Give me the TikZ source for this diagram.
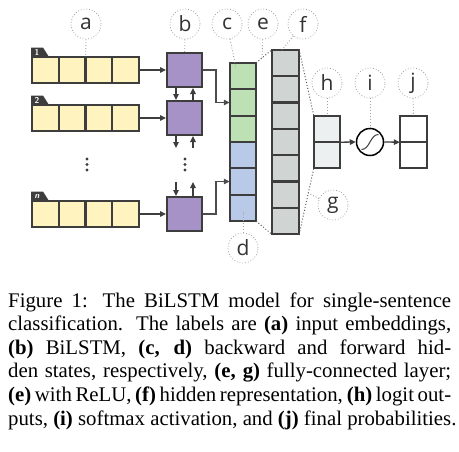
\documentclass[tikz,border=0pt]{standalone}
\usepackage{fontspec}
\setmainfont{Liberation Serif}
\newfontfamily\labfont{Open Sans}
\usetikzlibrary{arrows.meta,calc}
\definecolor{bd}{HTML}{3D3D3D}
\definecolor{yel}{HTML}{FFF4BF}
\definecolor{pur}{HTML}{A792C8}
\definecolor{grn}{HTML}{BEE0B5}
\definecolor{blu}{HTML}{B8CAE8}
\definecolor{gry}{HTML}{D0D4D3}
\definecolor{hcl}{HTML}{ECF0F0}
\definecolor{dotc}{HTML}{A0A0A0}
\begin{document}
\begin{tikzpicture}[x=1pt,y=-1pt,
  ecell/.style={fill=yel,inner sep=0pt,minimum width=26.75pt,minimum height=26pt},
  lstm/.style={draw=bd,line width=2pt,fill=pur,inner sep=0pt,minimum width=35pt,minimum height=34pt},
  vcell/.style={inner sep=0pt,minimum width=26pt,minimum height=26.33pt},
  fcell/.style={fill=gry,inner sep=0pt,minimum width=27pt,minimum height=26.29pt},
  ocell/.style={inner sep=0pt,minimum width=26pt,minimum height=26pt},
  cellborder/.style={draw=bd,line width=1.8pt},
  lab/.style={circle,draw=dotc,dotted,line width=0.8pt,minimum size=30pt,inner sep=0pt,font=\labfont\fontsize{21}{21}\selectfont,text=black!80},
  labline/.style={draw=dotc,dotted,line width=0.9pt},
  darkdot/.style={draw=black!65,dotted,line width=1pt},
  arr/.style={-{Triangle[length=6pt,width=5.5pt]},line width=1.3pt,draw=bd},
  conn/.style={-{Triangle[length=6pt,width=5.5pt]},line width=1.1pt,draw=black!70},
  tagtxt/.style={text=white,font=\sffamily\bfseries\fontsize{8.5}{8.5}\selectfont,inner sep=0pt},
  captxt/.style={anchor=base west,inner sep=0pt,font=\fontsize{20.8}{23.4}\selectfont}
]
\useasboundingbox (0,0) rectangle (459,451);
% input embeddings
\foreach \r/\y in {1/70,2/118,n/214}{
  \foreach \k in {1,...,4}{
    \node[ecell] (r\r c\k) at ({32+26.75*(\k-0.5)},\y) {};
  }
  \foreach \k in {1,...,4}{
    \draw[cellborder] (r\r c\k.north west) rectangle (r\r c\k.south east);
  }
}
\foreach \y in {57,105,201}{
  \fill[bd] (31.1,{\y-9.5}) -- (43,{\y-9.5}) -- (49,\y) -- (31.1,\y) -- cycle;
}
\node[tagtxt] (t1) at (37,52.3) {1};
\node[tagtxt] (t2) at (37,100.3) {2};
\node[tagtxt] (tn) at (37,196.3) {\itshape n};
\foreach \y in {159,164.5,170}{ \fill[bd] (87,\y) circle (1.6); }
% BiLSTM
\node[lstm] (b1) at (184.5,70) {};
\node[lstm] (b2) at (184.5,118) {};
\node[lstm] (bn) at (184.5,214) {};
\draw[arr] (r1c4.east) -- (b1.west);
\draw[arr] (r2c4.east) -- (b2.west);
\draw[arr] (rnc4.east) -- (bn.west);
\draw[arr] ([xshift=-8.5pt]b1.south) -- ([xshift=-8.5pt]b2.north);
\draw[arr] ([xshift=8.5pt]b2.north) -- ([xshift=8.5pt]b1.south);
\coordinate (d1) at (176,148);
\coordinate (u1) at (193,148);
\coordinate (d2) at (176,182);
\coordinate (u2) at (193,182);
\draw[arr] ([xshift=-8.5pt]b2.south) -- (d1);
\draw[arr] (u1) -- ([xshift=8.5pt]b2.south);
\draw[arr] (d2) -- ([xshift=-8.5pt]bn.north);
\draw[arr] ([xshift=8.5pt]bn.north) -- (u2);
\foreach \y in {159,164.5,170}{ \fill[bd] (185,\y) circle (1.6); }
% hidden states column
\foreach \k/\c in {1/grn,2/grn,3/grn,4/blu,5/blu,6/blu}{
  \node[vcell,fill=\c] (cd\k) at (243,{63+26.33*(\k-0.5)}) {};
}
\foreach \k in {1,...,6}{
  \draw[cellborder] (cd\k.north west) rectangle (cd\k.south east);
}
\draw[conn] (b1.east) -- ++(13,0) |- (cd2.west);
\draw[conn] (bn.east) -- ++(13,0) |- (cd5.west);
% hidden representation
\foreach \k in {1,...,7}{
  \node[fcell] (f\k) at (285.5,{50+26.29*(\k-0.5)}) {};
}
\foreach \k in {1,...,7}{
  \draw[cellborder] (f\k.north west) rectangle (f\k.south east);
}
% logits, softmax, output
\node[ocell,fill=hcl] (h1) at (327,129) {};
\node[ocell,fill=hcl] (h2) at (327,155) {};
\node[ocell,fill=white,minimum width=27pt] (j1) at (413.5,129) {};
\node[ocell,fill=white,minimum width=27pt] (j2) at (413.5,155) {};
\foreach \n in {h1,h2,j1,j2}{
  \draw[cellborder] (\n.north west) rectangle (\n.south east);
}
\node[circle,draw=black,line width=1.5pt,minimum size=27pt,inner sep=0pt,fill=white] (sm) at (370,142) {};
\draw[bd,line width=1pt] (361.5,149.5) .. controls (370,149.5) and (370,134.5) .. (378.5,134.5);
\draw[arr] (h1.south east) -- (sm.west);
\draw[arr] (sm.east) -- (j1.south west);
% dotted fully-connected connectors
\draw[darkdot] (cd1.north east) -- (f1.north west);
\draw[darkdot] (cd6.south east) -- (f7.south west);
\draw[darkdot] (f1.north east) -- (h1.north west);
\draw[darkdot] (f7.south east) -- (h2.south west);
% labels
\node[lab] (la) at (86,24) {a};
\node[lab] (lb) at (185,24) {b};
\node[lab] (lc) at (227,24) {c};
\node[lab] (le) at (263,24) {e};
\node[lab] (lf) at (303,24) {f};
\node[lab] (lh) at (327,83) {h};
\node[lab] (li) at (370,83) {i};
\node[lab] (lj) at (413,83) {j};
\node[lab] (lg) at (333,205) {g};
\node[lab] (ld) at (243,248) {d};
\coordinate (cpt) at (236,68);
\coordinate (ept) at ($(cd1.north east)!0.375!(f1.north west)$);
\coordinate (fpt) at (282,50);
\coordinate (gpt) at ($(f7.south east)!0.62!(h2.south west)$);
\coordinate (dpt) at (243,212);
\draw[labline] (la.south) -- (r1c2.north east);
\draw[labline] (lb) -- (b1);
\draw[labline] (lc) -- (cpt);
\draw[labline] (le) -- (ept);
\draw[labline] (lf) -- (fpt);
\draw[labline] (lh) -- (h1);
\draw[labline] (li) -- (sm);
\draw[labline] (lj) -- (j1);
\draw[labline] (lg) -- (gpt);
\draw[labline] (ld) -- (dpt);
% caption
\node[captxt] (cap1) at (8,307) {\makebox[443pt][s]{Figure 1: The BiLSTM model for single-sentence}};
\node[captxt] (cap2) at (8,330.6) {\makebox[443pt][s]{classification. The labels are \textbf{(a)} input embeddings,}};
\node[captxt] (cap3) at (8,354.2) {\makebox[443pt][s]{\textbf{(b)} BiLSTM, \textbf{(c, d)} backward and forward hid-}};
\node[captxt] (cap4) at (8,377.8) {\makebox[443pt][s]{den states, respectively, \textbf{(e, g)} fully-connected layer;}};
\node[captxt] (cap5) at (8,401.4) {\makebox[443pt][s]{\textbf{(e)} with ReLU, \textbf{(f)} hidden representation, \textbf{(h)} logit out-}};
\node[captxt] (cap6) at (8,425) {\makebox[443pt][l]{puts, \textbf{(i)} softmax activation, and \textbf{(j)} final probabilities.}};
\end{tikzpicture}
\end{document}
